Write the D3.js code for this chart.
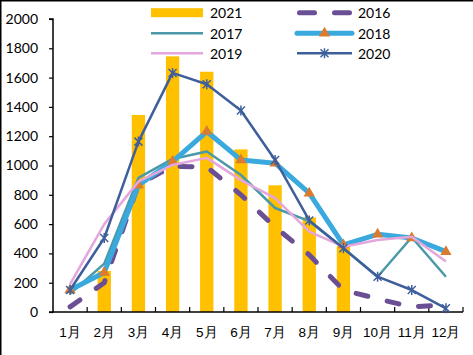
<!DOCTYPE html>
<html><head><meta charset="utf-8">
<script src="https://cdn.jsdelivr.net/npm/d3@7"></script>
<style>
html,body{margin:0;padding:0;background:#fff;}
svg{display:block;font-family:Lato,"Noto Sans CJK SC",sans-serif;}
</style></head>
<body>
<svg id="c" width="473" height="355"></svg>
<script>
const months = ["1月","2月","3月","4月","5月","6月","7月","8月","9月","10月","11月","12月"];
const yTicks = [0,200,400,600,800,1000,1200,1400,1600,1800,2000];
const s2021 = [null,280,1345,1745,1640,1110,865,645,450,null,null,null];
const s2016 = [35,200,870,995,990,800,580,390,150,90,35,50];
const s2017 = [125,330,915,1045,1095,935,710,620,435,241,510,241];
const s2018 = [150,270,865,1027,1232,1038,1016,811,458,530,505,412];
const s2019 = [190,600,890,1004,1052,900,778,549,446,492,514,344];
const s2020 = [150,505,1163,1632,1555,1375,1038,625,435,241,150,25];

const svg = d3.select("#c");
const L = 53, R = 463, T = 19, B = 312;
const x = d3.scaleBand().domain(months).range([L,R]).paddingInner(0).paddingOuter(0);
const y = d3.scaleLinear().domain([0,2000]).range([B,T]);
const cx = m => x(m) + x.bandwidth()/2;

// border (left & top visible)
svg.append("path").attr("d","M0.75,355 V0.75 H473").attr("fill","none").attr("stroke","#000").attr("stroke-width",1.5);

// bars
const bw = x.bandwidth()*0.39;
svg.append("g").selectAll("rect").data(months.map((m,i)=>({m,v:s2021[i]})).filter(d=>d.v!=null))
  .join("rect").attr("x",d=>cx(d.m)-bw/2).attr("width",bw)
  .attr("y",d=>y(d.v)).attr("height",d=>B-y(d.v)).attr("fill","#FFC000");

// axes
const yAxis = d3.axisLeft(y).tickValues(yTicks).tickFormat(d3.format("d")).tickSize(4).tickPadding(11);
const gy = svg.append("g").attr("transform",`translate(${L},0)`).call(yAxis);
gy.select(".domain").attr("stroke","#000").attr("stroke-width",1.5).attr("d",`M-4,${B}H0V${T}H-4`);
gy.selectAll(".tick line").attr("stroke","#000").attr("stroke-width",1.2);
gy.selectAll("text").attr("font-size","14px").attr("fill","#000").attr("font-family","Lato,sans-serif");

const xAxis = d3.axisBottom(x).tickSize(0).tickPadding(15);
const gx = svg.append("g").attr("transform",`translate(0,${B})`).call(xAxis);
gx.select(".domain").attr("stroke","#000").attr("stroke-width",1.5).attr("d",`M${L},0H${R}`);
gx.selectAll("text").attr("font-size","13.5px").attr("fill","#000");
// inside ticks at category boundaries
gx.append("g").selectAll("line").data(months).join("line")
  .attr("x1",m=>x(m)+x.bandwidth()).attr("x2",m=>x(m)+x.bandwidth())
  .attr("y1",0).attr("y2",-5).attr("stroke","#000").attr("stroke-width",1.2);

const line = d3.line().x((d,i)=>cx(months[i])).y(d=>y(d));

// series
const C16="#6b4f94", C17="#4a98a8", C18="#3aa9dd", C19="#e4a6dc", C20="#3f5f9c", CTRI="#db7b30";
svg.append("path").datum(s2016).attr("d",line).attr("fill","none").attr("stroke",C16)
  .attr("stroke-width",5).attr("stroke-dasharray","12,20").attr("stroke-linecap","round");
svg.append("path").datum(s2017).attr("d",line).attr("fill","none").attr("stroke",C17).attr("stroke-width",2.5).attr("stroke-linejoin","round");
svg.append("path").datum(s2018).attr("d",line).attr("fill","none").attr("stroke",C18).attr("stroke-width",5).attr("stroke-linejoin","round");
const tri = d3.symbol().type(d3.symbolTriangle).size(55);
svg.append("g").selectAll("path").data(s2018).join("path")
  .attr("transform",(d,i)=>`translate(${cx(months[i])},${y(d)})`).attr("d",tri).attr("fill",CTRI);
svg.append("path").datum(s2019).attr("d",line).attr("fill","none").attr("stroke",C19).attr("stroke-width",2.5).attr("stroke-linejoin","round");
svg.append("path").datum(s2020).attr("d",line).attr("fill","none").attr("stroke",C20).attr("stroke-width",2.5).attr("stroke-linejoin","round");
const star = "M-4,-4L4,4M-4,4L4,-4M0,-5V5";
svg.append("g").selectAll("path").data(s2020).join("path")
  .attr("transform",(d,i)=>`translate(${cx(months[i])},${y(d)})`).attr("d",star)
  .attr("fill","none").attr("stroke",C20).attr("stroke-width",1.5);

// legend
const lg = svg.append("g").attr("font-size","14px").attr("fill","#000");
const rows = [12.7,33.3,53.3];
const c1 = [151,203,210], c2 = [297,352,358];
lg.append("rect").attr("x",c1[0]).attr("y",rows[0]-4.5).attr("width",c1[1]-c1[0]).attr("height",9).attr("fill","#FFC000");
lg.append("text").attr("x",c1[2]).attr("y",rows[0]+5.3).text("2021");
lg.append("line").attr("x1",c2[0]+2.5).attr("x2",c2[1]-2.5).attr("y1",rows[0]).attr("y2",rows[0])
  .attr("stroke",C16).attr("stroke-width",5).attr("stroke-linecap","round").attr("stroke-dasharray","15,20");
lg.append("text").attr("x",c2[2]).attr("y",rows[0]+5.3).text("2016");
lg.append("line").attr("x1",c1[0]).attr("x2",c1[1]).attr("y1",rows[1]).attr("y2",rows[1]).attr("stroke",C17).attr("stroke-width",2.5);
lg.append("text").attr("x",c1[2]).attr("y",rows[1]+5.3).text("2017");
lg.append("line").attr("x1",c2[0]).attr("x2",c2[1]).attr("y1",rows[1]).attr("y2",rows[1]).attr("stroke",C18).attr("stroke-width",5).attr("stroke-linecap","round");
lg.append("path").attr("transform",`translate(${(c2[0]+c2[1])/2},${rows[1]})`).attr("d",tri).attr("fill",CTRI);
lg.append("text").attr("x",c2[2]).attr("y",rows[1]+5.3).text("2018");
lg.append("line").attr("x1",c1[0]).attr("x2",c1[1]).attr("y1",rows[2]).attr("y2",rows[2]).attr("stroke",C19).attr("stroke-width",2.5);
lg.append("text").attr("x",c1[2]).attr("y",rows[2]+5.3).text("2019");
lg.append("line").attr("x1",c2[0]).attr("x2",c2[1]).attr("y1",rows[2]).attr("y2",rows[2]).attr("stroke",C20).attr("stroke-width",2.5);
lg.append("path").attr("transform",`translate(${(c2[0]+c2[1])/2},${rows[2]})`).attr("d",star).attr("fill","none").attr("stroke",C20).attr("stroke-width",1.5);
lg.append("text").attr("x",c2[2]).attr("y",rows[2]+5.3).text("2020");
</script>
</body></html>
